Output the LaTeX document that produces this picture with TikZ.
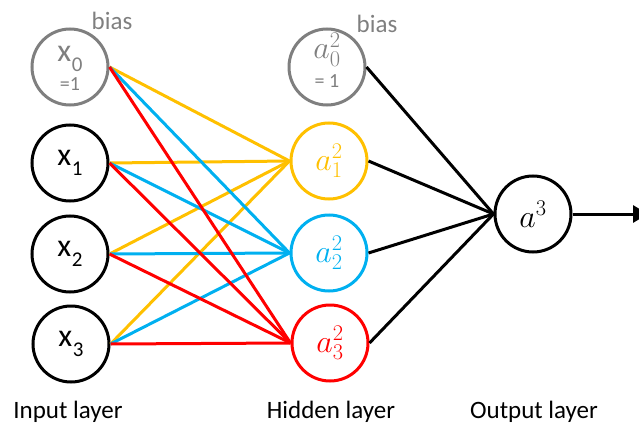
\RequirePackage{fix-cm}
\documentclass[tikz,border=0pt]{standalone}
\usepackage{fontspec}
\setmainfont{Carlito}
\usetikzlibrary{arrows.meta}

\definecolor{biasgray}{HTML}{7F7F7F}
\definecolor{hyellow}{HTML}{FFC000}
\definecolor{hblue}{HTML}{00B0F0}
\definecolor{hred}{HTML}{FF0000}

% x with a lowered index
\newcommand{\xsub}[1]{x\kern0.5pt\raisebox{-10pt}{\fontsize{21}{21}\selectfont #1}}

\begin{document}
\begin{tikzpicture}[x=1pt, y=-1pt,
    neuron/.style={circle, draw, line width=3pt, minimum size=76pt, inner sep=0pt},
    edge/.style={line width=3pt},
    big/.style={font=\fontsize{32}{32}\selectfont},
    lbl/.style={font=\fontsize{25}{25}\selectfont, anchor=base}]
  \useasboundingbox (0,0) rectangle (639,425);

  % Input layer
  \node[neuron, biasgray] (in0) at (70,67) {};
  \node[big, biasgray, anchor=base] (in0x) at (70,62) {\xsub{0}};
  \node[biasgray, anchor=base, font=\fontsize{20}{20}\selectfont] (in0one) at (70,91) {=1};
  \node[neuron, big] (in1) at (70,163) {\xsub{1}};
  \node[neuron, big] (in2) at (70,254) {\xsub{2}};
  \node[neuron, big] (in3) at (71,344) {\xsub{3}};
  \node[lbl, biasgray] (inbias) at (112,30) {bias};

  % Hidden layer
  \node[neuron, biasgray] (hid0) at (327,67) {};
  \node[big, biasgray, anchor=base] (hid0a) at (327,59) {$a^2_0$};
  \node[biasgray, anchor=base, font=\fontsize{20}{20}\selectfont] (hid0one) at (327,88) {= 1};
  \node[neuron, big, hyellow] (hid1) at (329,161) {$a^2_1$};
  \node[neuron, big, hblue] (hid2) at (329,253) {$a^2_2$};
  \node[neuron, big, hred] (hid3) at (330,343) {$a^2_3$};
  \node[lbl, biasgray] (hidbias) at (377,33) {bias};

  % Output layer
  \node[neuron, big] (out) at (533,214) {$a^3$};
  \coordinate (outend) at (648,214);

  % Weights
  \foreach \h/\c in {1/hyellow, 2/hblue, 3/hred} {
    \foreach \i in {0,...,3} {
      \draw[edge, \c] (in\i.east) -- (hid\h.west);
    }
  }
  \foreach \h in {0,...,3}
    \draw[edge] (hid\h.east) -- (out.west);
  \draw[edge, -{Triangle[length=15pt, width=17pt]}] (out.east) -- (outend);

  % Layer names
  \node[lbl] (inname) at (68,418) {Input layer};
  \node[lbl] (hidname) at (331,418) {Hidden layer};
  \node[lbl] (outname) at (534,418) {Output layer};
\end{tikzpicture}
\end{document}
